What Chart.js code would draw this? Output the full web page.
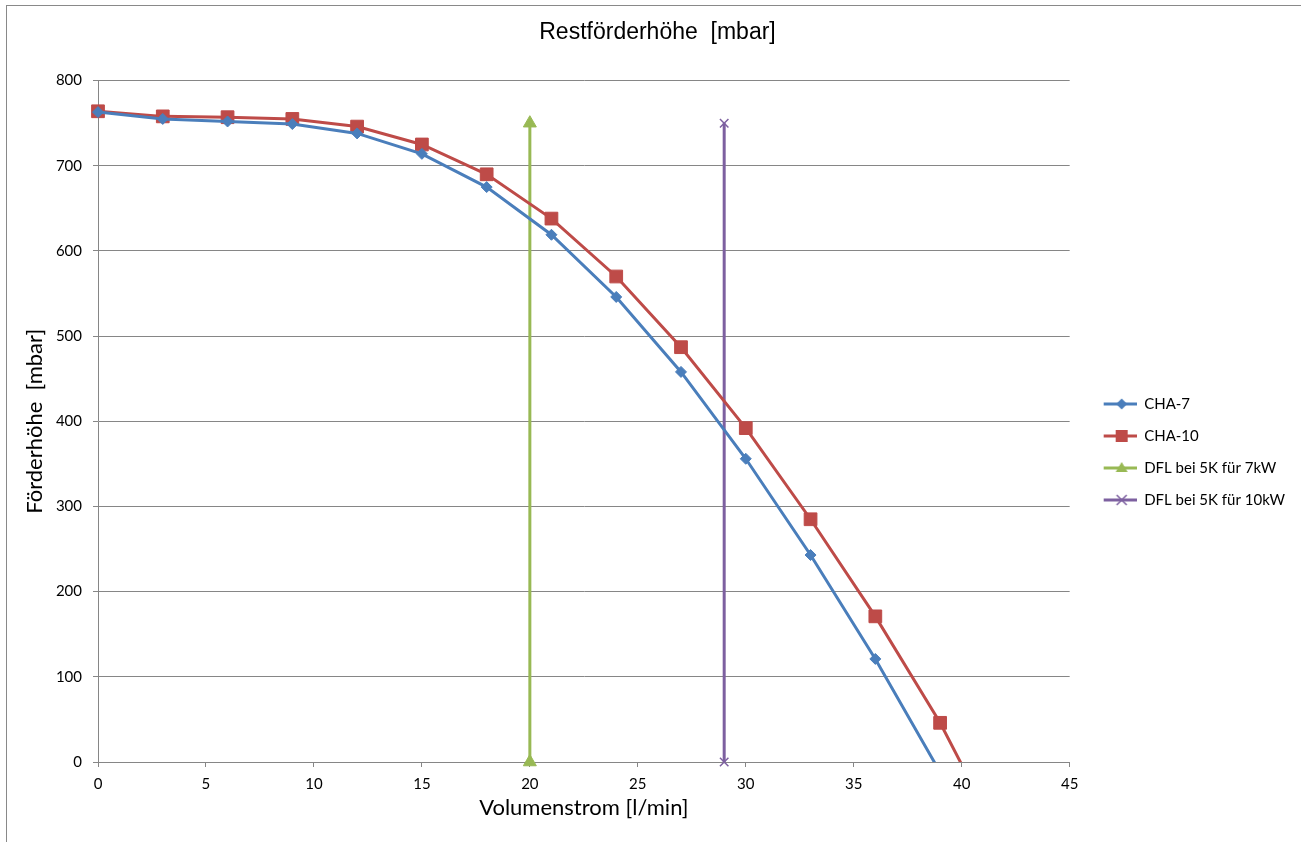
<!DOCTYPE html>
<html>
<head>
<meta charset="utf-8">
<script src="https://cdn.jsdelivr.net/npm/chart.js@4.4.1/dist/chart.umd.min.js"></script>
<style>
  html, body { margin: 0; padding: 0; background: #fff; overflow: hidden; }
  #frame { position: absolute; left: 6px; top: 5px; width: 1400px; height: 900px; border-left: 1px solid #898989; border-top: 1px solid #898989; }
  #chart { position: absolute; left: 0; top: 0; }
</style>
</head>
<body>
<div id="frame"></div>
<canvas id="chart" width="1301" height="842"></canvas>
<script>
// Volumenstrom [l/min]
const flowCha7 = [0, 3, 6, 9, 12, 15, 18, 21, 24, 27, 30, 33, 36, 39];
const headCha7 = [763, 755, 752, 749, 738, 714, 675, 619, 546, 458, 356, 243, 121, -12];
const flowCha10 = [0, 3, 6, 9, 12, 15, 18, 21, 24, 27, 30, 33, 36, 39, 42];
const headCha10 = [764, 758, 757, 755, 746, 725, 690, 638, 570, 487, 392, 285, 171, 46, -101];
// Durchfluss-Linien
const flowDfl7 = [20, 20];
const headDfl7 = [0, 750];
const flowDfl10 = [29, 29];
const headDfl10 = [0, 750];

const xTicks = [0, 5, 10, 15, 20, 25, 30, 35, 40, 45];
const yTicks = [0, 100, 200, 300, 400, 500, 600, 700, 800];

const BLUE = "#4A7EBB";
const RED = "#BE4B48";
const GREEN = "#98B954";
const PURPLE = "#7D60A0";
const GRID = "#868686";
const CALIBRI = "Lato, 'Open Sans', sans-serif";

function toPoints(xs, ys) {
  return xs.map((x, i) => ({ x, y: ys[i] }));
}

// little line+marker picture for the legend (17px empty at the left)
function legendIcon(color, style) {
  const c = document.createElement("canvas");
  c.width = 50;
  c.height = 16;
  const g = c.getContext("2d");
  g.strokeStyle = color;
  g.fillStyle = color;
  g.lineWidth = 3;
  g.beginPath();
  g.moveTo(17, 8);
  g.lineTo(50, 8);
  g.stroke();
  const cx = 35, cy = 8;
  g.lineWidth = 1.5;
  g.beginPath();
  if (style === "diamond") {
    g.moveTo(cx, cy - 5.5); g.lineTo(cx + 5.5, cy); g.lineTo(cx, cy + 5.5); g.lineTo(cx - 5.5, cy); g.closePath(); g.fill();
  } else if (style === "square") {
    g.rect(cx - 6, cy - 6, 12, 12); g.fill();
  } else if (style === "triangle") {
    g.moveTo(cx, cy - 6); g.lineTo(cx + 6, cy + 4); g.lineTo(cx - 6, cy + 4); g.closePath(); g.fill();
  } else {
    g.moveTo(cx - 5, cy - 5); g.lineTo(cx + 5, cy + 5);
    g.moveTo(cx + 5, cy - 5); g.lineTo(cx - 5, cy + 5); g.stroke();
  }
  return c;
}

const icons = [
  legendIcon(BLUE, "diamond"),
  legendIcon(RED, "square"),
  legendIcon(GREEN, "triangle"),
  legendIcon(PURPLE, "cross")
];

function series(label, data, color, pointStyle, radius, clipBottom) {
  return {
    label,
    data,
    borderColor: color,
    backgroundColor: color,
    pointBackgroundColor: color,
    pointBorderColor: color,
    pointBorderWidth: pointStyle === "crossRot" ? 1.5 : 1,
    pointStyle,
    pointRadius: radius,
    pointHoverRadius: radius,
    borderWidth: 3,
    showLine: true,
    tension: 0,
    clip: { left: 12, top: 12, right: 12, bottom: clipBottom }
  };
}

new Chart(document.getElementById("chart"), {
  type: "scatter",
  data: {
    datasets: [
      series("CHA-7", toPoints(flowCha7, headCha7), BLUE, "rectRot", 5.5, 0),
      series("CHA-10", toPoints(flowCha10, headCha10), RED, "rect", 9, 0),
      series("DFL bei 5K für 7kW", toPoints(flowDfl7, headDfl7), GREEN, "triangle", 7.5, 12),
      series("DFL bei 5K für 10kW", toPoints(flowDfl10, headDfl10), PURPLE, "crossRot", 6, 12)
    ]
  },
  options: {
    responsive: false,
    animation: false,
    devicePixelRatio: 1,
    layout: { padding: { left: 20, right: 6, top: 0, bottom: 0 } },
    plugins: {
      tooltip: { enabled: false },
      title: {
        display: true,
        text: "Restförderhöhe  [mbar]",
        color: "#000",
        font: { family: "'Liberation Sans', Arial, sans-serif", size: 23, weight: "normal" },
        padding: { top: 19, bottom: 34 }
      },
      legend: {
        position: "right",
        maxWidth: 232,
        title: { display: true, text: "", font: { size: 10 }, padding: { top: 0, bottom: 50 } },
        labels: {
          color: "#000",
          font: { family: CALIBRI, size: 15 },
          usePointStyle: true,
          pointStyleWidth: 50,
          padding: 17,
          generateLabels(chart) {
            const items = Chart.defaults.plugins.legend.labels.generateLabels(chart);
            items.forEach((item, i) => { item.pointStyle = icons[i]; });
            return items;
          }
        }
      }
    },
    scales: {
      x: {
        type: "linear",
        min: 0,
        max: 45,
        afterBuildTicks: s => { s.ticks = xTicks.map(v => ({ value: v })); },
        afterFit: s => { s.height = 80; },
        ticks: { color: "#000", font: { family: CALIBRI, size: 15 }, padding: 8 },
        grid: { drawOnChartArea: false, drawTicks: true, tickLength: 5, color: GRID },
        border: { color: GRID },
        title: {
          display: true,
          text: "Volumenstrom [l/min]",
          color: "#000",
          font: { family: CALIBRI, size: 22 },
          padding: { top: 0, bottom: 21 }
        }
      },
      y: {
        type: "linear",
        min: 0,
        max: 800,
        afterBuildTicks: s => { s.ticks = yTicks.map(v => ({ value: v })); },
        afterFit: s => { s.width = 78; },
        ticks: { color: "#000", font: { family: CALIBRI, size: 15 }, padding: 11 },
        grid: { color: GRID, tickLength: 5 },
        border: { color: GRID },
        title: {
          display: true,
          text: "Förderhöhe  [mbar]",
          color: "#000",
          font: { family: CALIBRI, size: 22 },
          padding: { top: 2, bottom: 0 }
        }
      }
    }
  }
});
</script>
</body>
</html>
